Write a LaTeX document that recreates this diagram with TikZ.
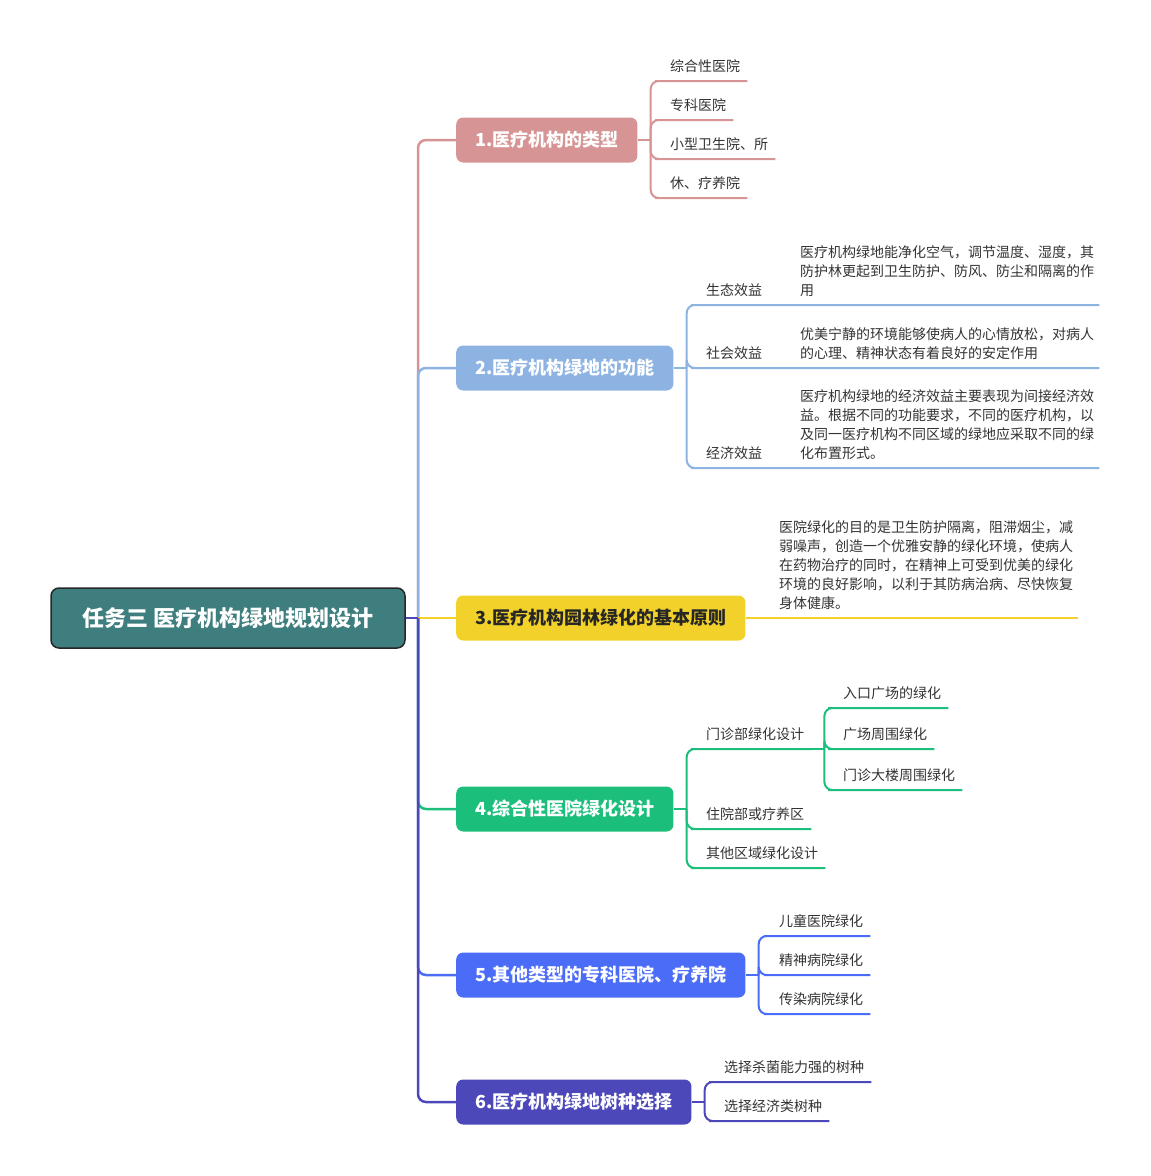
\documentclass[tikz,border=0pt]{standalone}
\usepackage{fontspec}
\setmainfont{Noto Sans CJK SC}
\usetikzlibrary{positioning}

\definecolor{rootteal}{HTML}{3F7E7E}
\definecolor{pinkc}{HTML}{D69494}
\definecolor{bluec}{HTML}{8DB3E2}
\definecolor{yellowc}{HTML}{F2D22A}
\definecolor{greenc}{HTML}{1BBE7A}
\definecolor{royalc}{HTML}{4A6CF6}
\definecolor{indigoc}{HTML}{4C48BA}

% depth of the last line of a note
\newcommand{\lastdp}{\rule[-9pt]{0pt}{9pt}}

\tikzset{
  root/.style={draw=black!85, line width=1.5pt, fill=rootteal, rounded corners=8pt,
    text=white, font=\fontsize{22}{22}\selectfont\bfseries,
    minimum width=354pt, minimum height=60pt},
  topic/.style={rounded corners=7pt, fill=#1, text=white,
    font=\fontsize{18}{18}\selectfont\bfseries,
    inner xsep=19pt, minimum height=45pt, anchor=west},
  leaf/.style={font=\fontsize{14}{19}\selectfont, text=black!80, inner xsep=7pt,
    inner ysep=0pt, text height=12pt, text depth=9pt, anchor=south west},
  note/.style={font=\fontsize{14}{19}\selectfont, text=black!80, inner xsep=5pt,
    inner ysep=0pt, align=left, anchor=south west},
  link/.style={line width=2.5pt, #1, rounded corners=8pt},
  twig/.style={line width=2pt, #1, rounded corners=8pt},
}

\begin{document}
\begin{tikzpicture}[x=1pt,y=-1pt]
\useasboundingbox (0,0) rectangle (1151,1176);

\node[root] (root) at (228,618) {任务三 医疗机构绿地规划设计};
\coordinate (j0) at (418,618);

% main topics
\node[topic=pinkc] (b1) at (456,140) {1.医疗机构的类型};
\node[topic=bluec] (b2) at (456,368) {2.医疗机构绿地的功能};
\node[topic=yellowc, text=black!85] (b3) at (456,618) {3.医疗机构园林绿化的基本原则};
\node[topic=greenc] (b4) at (456,809) {4.综合性医院绿化设计};
\node[topic=royalc] (b5) at (456,975) {5.其他类型的专科医院、疗养院};
\node[topic=indigoc] (b6) at (456,1102) {6.医疗机构绿地树种选择};

\draw[link=pinkc] (j0) |- (b1.west);
\draw[link=bluec] (j0) |- (b2.west);
\draw[link=yellowc] (j0) -- (b3.west);
\draw[link=greenc] (j0) |- (b4.west);
\draw[link=royalc] (j0) |- (b5.west);
\draw[link=indigoc] (j0) |- (b6.west);
\draw[link=indigoc] (root.east) -- (j0);

% 1
\node[leaf] (l11) at (663,81) {综合性医院};
\node[leaf] (l12) at (663,120) {专科医院};
\node[leaf] (l13) at (663,159) {小型卫生院、所};
\node[leaf] (l14) at (663,198) {休、疗养院};
\coordinate (j1) at ([xshift=13pt]b1.east);
\draw[twig=pinkc] (b1.east) -- (j1);
\foreach \n in {l11,l12,l13,l14}
  \draw[twig=pinkc] (j1) |- (\n.south west) -- (\n.south east);

% 2
\node[leaf] (l21) at (699,305) {生态效益};
\node[leaf] (l22) at (699,368) {社会效益};
\node[leaf] (l23) at (699,468) {经济效益};
\node[note] (n21) at (795,305) {医疗机构绿地能净化空气，调节温度、湿度，其\\
  防护林更起到卫生防护、防风、防尘和隔离的作\\用\lastdp};
\node[note] (n22) at (795,368) {优美宁静的环境能够使病人的心情放松，对病人\\
  的心理、精神状态有着良好的安定作用\lastdp};
\node[note] (n23) at (795,468) {医疗机构绿地的经济效益主要表现为间接经济效\\
  益。根据不同的功能要求，不同的医疗机构，以\\
  及同一医疗机构不同区域的绿地应采取不同的绿\\化布置形式。\lastdp};
\coordinate (j2) at ([xshift=13pt]b2.east);
\draw[twig=bluec] (b2.east) -- (j2);
\foreach \n/\m in {l21/n21,l22/n22,l23/n23}
  \draw[twig=bluec] (j2) |- (\n.south west) -- (\m.south east);

% 3
\node[note] (n31) at (774,618) {医院绿化的目的是卫生防护隔离，阻滞烟尘，减\\
  弱噪声，创造一个优雅安静的绿化环境，使病人\\
  在药物治疗的同时，在精神上可受到优美的绿化\\
  环境的良好影响，以利于其防病治病、尽快恢复\\
  身体健康。\lastdp};
\draw[twig=yellowc] (b3.east) -- (n31.south east);

% 4
\node[leaf] (l41) at (699,749) {门诊部绿化设计};
\node[leaf] (l42) at (699,829) {住院部或疗养区};
\node[leaf] (l43) at (699,868) {其他区域绿化设计};
\coordinate (j4) at ([xshift=13pt]b4.east);
\draw[twig=greenc] (b4.east) -- (j4);
\foreach \n in {l41,l42,l43}
  \draw[twig=greenc] (j4) |- (\n.south west) -- (\n.south east);
\node[leaf] (l411) at (836,708) {入口广场的绿化};
\node[leaf] (l412) at (836,749) {广场周围绿化};
\node[leaf] (l413) at (836,790) {门诊大楼周围绿化};
\coordinate (j41) at ([xshift=13pt]l41.south east);
\draw[twig=greenc] (l41.south east) -- (j41);
\foreach \n in {l411,l412,l413}
  \draw[twig=greenc] (j41) |- (\n.south west) -- (\n.south east);

% 5
\node[leaf] (l51) at (772,936) {儿童医院绿化};
\node[leaf] (l52) at (772,975) {精神病院绿化};
\node[leaf] (l53) at (772,1014) {传染病院绿化};
\coordinate (j5) at ([xshift=13pt]b5.east);
\draw[twig=royalc] (b5.east) -- (j5);
\foreach \n in {l51,l52,l53}
  \draw[twig=royalc] (j5) |- (\n.south west) -- (\n.south east);

% 6
\node[leaf] (l61) at (717,1082) {选择杀菌能力强的树种};
\node[leaf] (l62) at (717,1121) {选择经济类树种};
\coordinate (j6) at ([xshift=13pt]b6.east);
\draw[twig=indigoc] (b6.east) -- (j6);
\foreach \n in {l61,l62}
  \draw[twig=indigoc] (j6) |- (\n.south west) -- (\n.south east);
\end{tikzpicture}
\end{document}
